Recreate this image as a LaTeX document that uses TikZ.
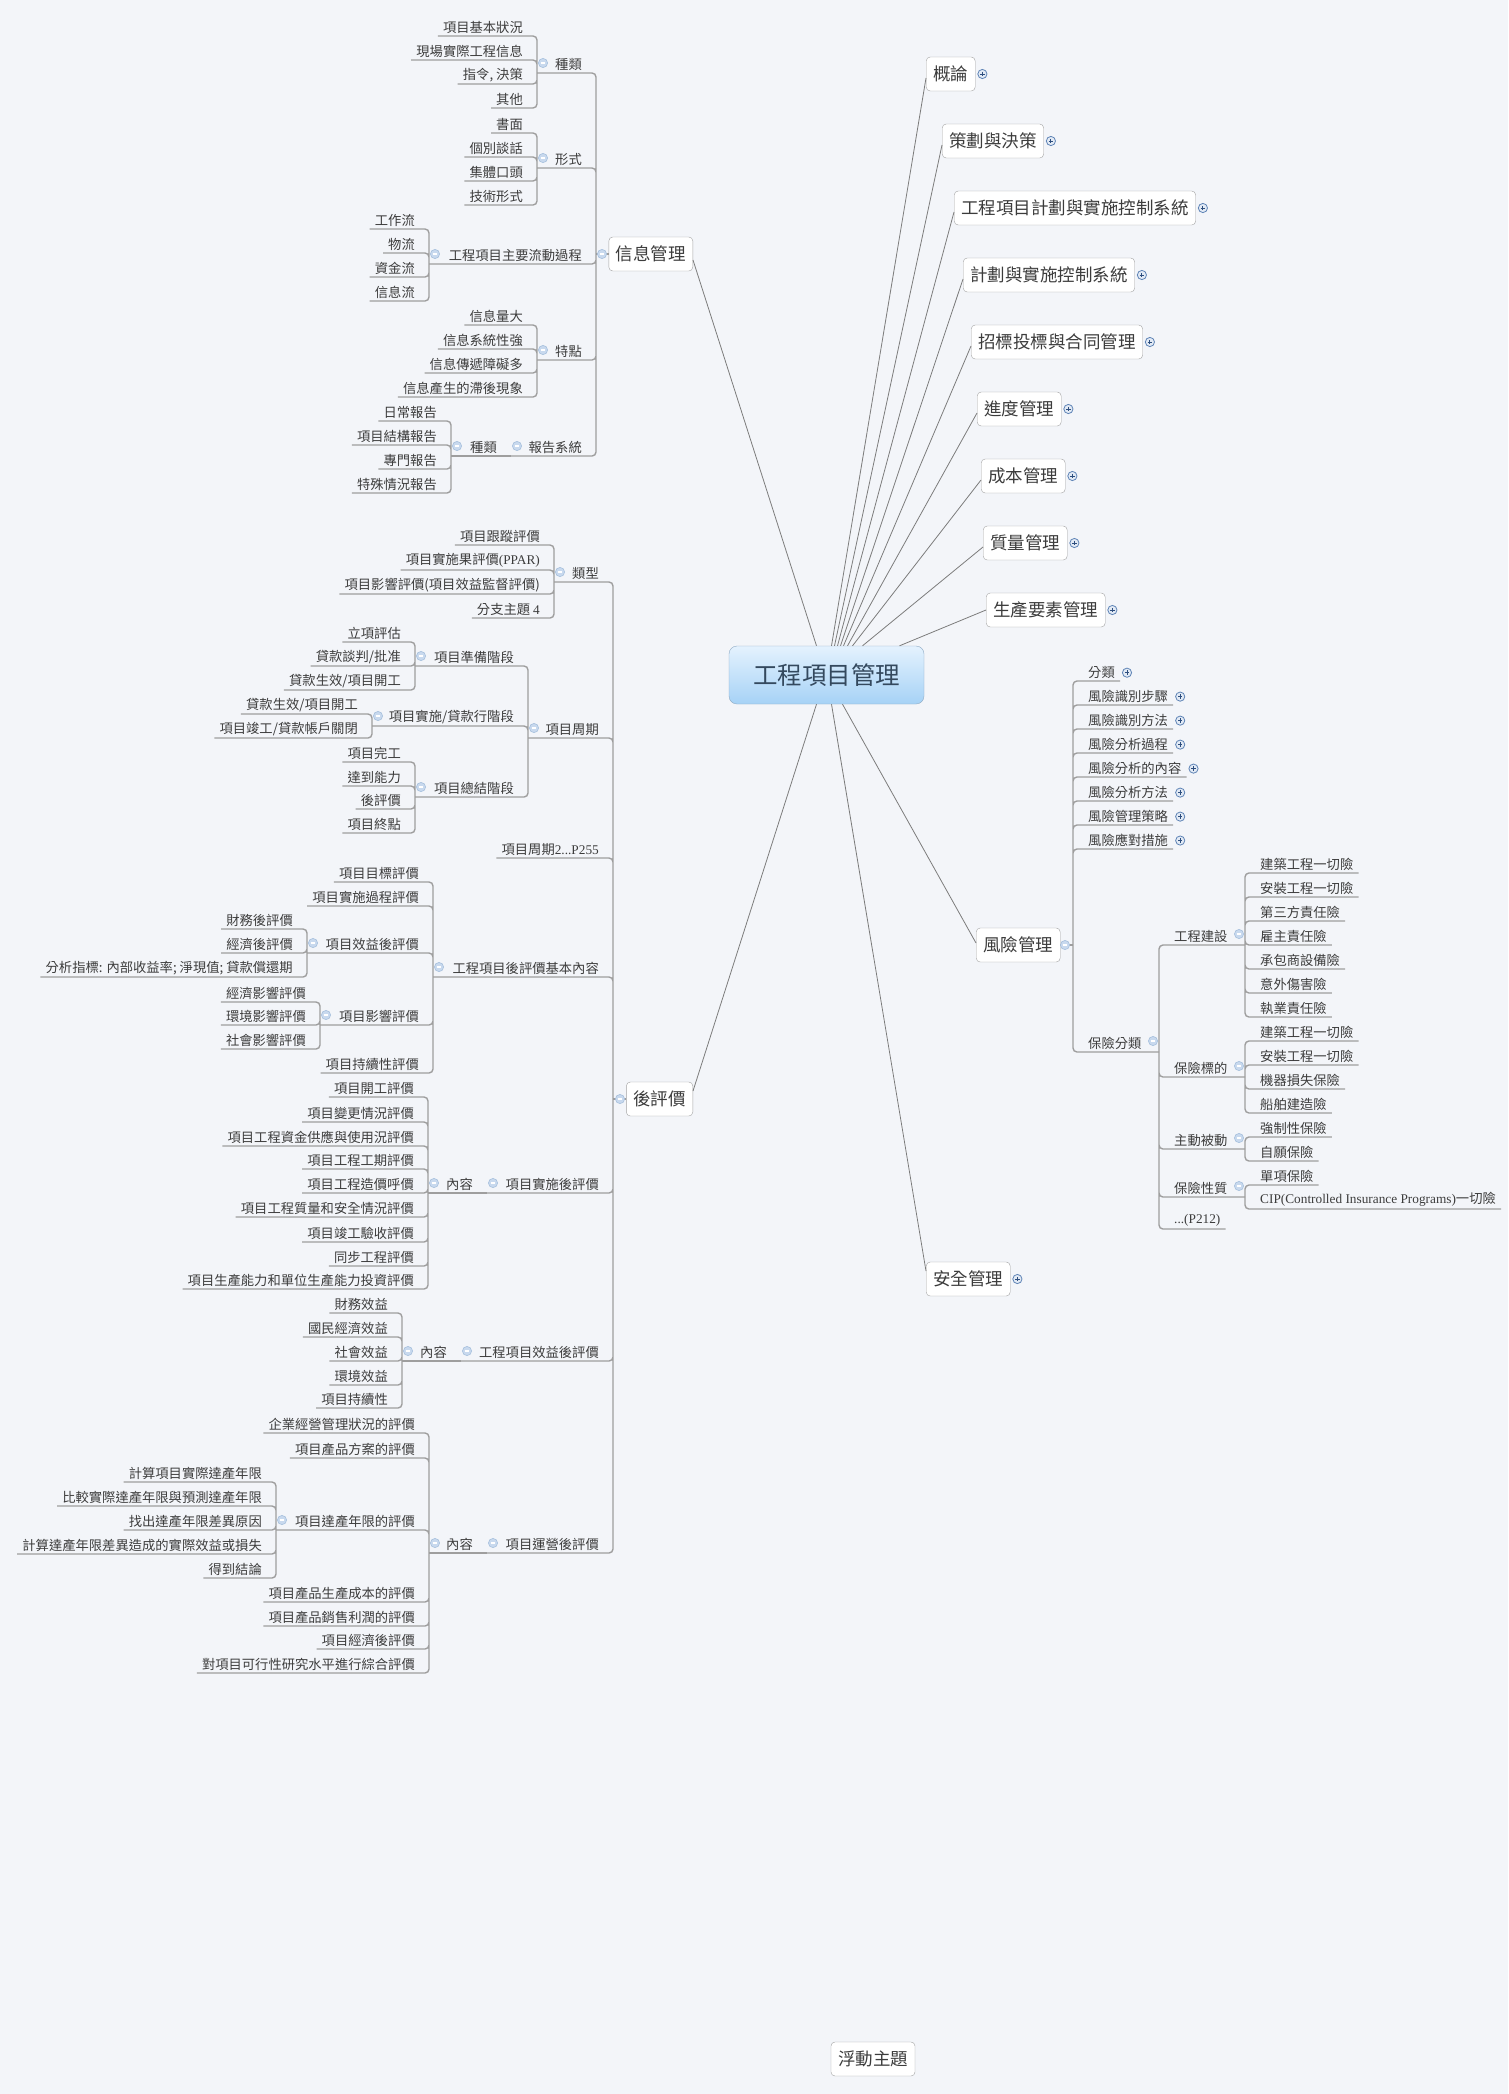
\documentclass[tikz,border=0pt]{standalone}
\usepackage{fontspec}
\setmainfont{Noto Sans CJK TC}
\newfontfamily\latinfont{Liberation Serif}

\definecolor{paper}{HTML}{F3F5F9}
\definecolor{ink}{HTML}{3C3C3C}
\definecolor{rootink}{HTML}{34495E}
\definecolor{wire}{HTML}{9E9E9E}
\definecolor{spokec}{HTML}{7C7C7C}
\definecolor{boxline}{HTML}{A3A3A3}
\definecolor{roottop}{HTML}{E4F2FE}
\definecolor{rootbot}{HTML}{A6D2F6}
\definecolor{rootline}{HTML}{8DA9C3}
\definecolor{foldfill}{HTML}{C8D9EE}
\definecolor{foldline}{HTML}{A7C0DD}
\definecolor{morefill}{HTML}{E2EAF5}
\definecolor{moreline}{HTML}{5F84B6}
\definecolor{moredot}{HTML}{2D4E7E}

\begin{document}
\begin{tikzpicture}[
  x=1pt, y=-1pt,
  root/.style  = {rectangle, rounded corners=8pt, draw=rootline, top color=roottop, bottom color=rootbot,
                  minimum width=195pt, minimum height=58pt, font=\fontsize{24.5}{28}\selectfont, text=rootink},
  topic/.style = {rectangle, rounded corners=4pt, draw=boxline, fill=white, minimum height=34pt,
                  inner xsep=7pt, font=\fontsize{17.5}{20}\selectfont, text=ink},
  leafl/.style = {anchor=south east, inner xsep=5pt, inner ysep=2pt, font=\fontsize{13.3}{16}\selectfont, text=ink},
  leafr/.style = {leafl, anchor=south west},
  conn/.style  = {draw=wire, line width=1.4pt, rounded corners=4pt},
  spoke/.style = {draw=spokec, line width=0.8pt},
  fold/.pic    = {\draw[fill=foldfill, draw=foldline, line width=0.6pt] (0,0) circle[radius=4.6pt];
                  \draw[white, line width=1.2pt] (-2.4,0) -- (2.4,0);},
  more/.pic    = {\draw[fill=morefill, draw=moreline, line width=0.8pt] (0,0) circle[radius=4.6pt];
                  \draw[moredot, line width=1pt] (-2.2,0) -- (2.2,0) (0,-2.2) -- (0,2.2);}
]
\useasboundingbox (0,0) rectangle (1508,2094);
\fill[paper] (0,0) rectangle (1508,2094);

%% ── Centre and main topics ───────────────────────────────────────────────────
\node[root] (root) at (826.5,675) {工程項目管理};
\node[topic, anchor=east] (xxgl) at (693,254)  {信息管理};
\node[topic, anchor=east] (hpj)  at (693,1099) {後評價};
\node[topic, anchor=west] (gl)   at (926,74)   {概論};
\node[topic, anchor=west] (chjc) at (942,141)  {策劃與決策};
\node[topic, anchor=west] (gcjh) at (954,208)  {工程項目計劃與實施控制系統};
\node[topic, anchor=west] (jhkz) at (963,275)  {計劃與實施控制系統};
\node[topic, anchor=west] (zbtb) at (971,342)  {招標投標與合同管理};
\node[topic, anchor=west] (jdgl) at (977,409)  {進度管理};
\node[topic, anchor=west] (cbgl) at (981,476)  {成本管理};
\node[topic, anchor=west] (zlgl) at (983,543)  {質量管理};
\node[topic, anchor=west] (scys) at (986,610)  {生產要素管理};
\node[topic, anchor=west] (fxgl) at (976,945)  {風險管理};
\node[topic, anchor=west] (aqgl) at (926,1279) {安全管理};
\node[topic] (fdzt) at (873,2059) {浮動主題};

\coordinate (xxgl-j) at (596,254);
\coordinate (hpj-j)  at (613,1099);
\coordinate (fxgl-j) at (1073,945);

%% ── 信息管理 ─────────────────────────────────────────────────────────────────
\node[leafl] (zl1)  at (587,73)  {種類};      \coordinate (zl1-j) at (537,73);
\node[leafl] (zl1a) at (528,36)  {項目基本狀況};
\node[leafl] (zl1b) at (528,60)  {現場實際工程信息};
\node[leafl] (zl1c) at (528,84)  {指令, 決策};
\node[leafl] (zl1d) at (528,108) {其他};
\node[leafl] (xs)   at (587,168) {形式};      \coordinate (xs-j) at (537,168);
\node[leafl] (xsa)  at (528,133) {書面};
\node[leafl] (xsb)  at (528,157) {個別談話};
\node[leafl] (xsc)  at (528,181) {集體口頭};
\node[leafl] (xsd)  at (528,205) {技術形式};
\node[leafl] (ldgc) at (587,264) {工程項目主要流動過程}; \coordinate (ldgc-j) at (429,264);
\node[leafl] (ldga) at (420,229) {工作流};
\node[leafl] (ldgb) at (420,253) {物流};
\node[leafl] (ldgcc) at (420,277) {資金流};
\node[leafl] (ldgd) at (420,301) {信息流};
\node[leafl] (td)   at (587,360) {特點};      \coordinate (td-j) at (537,360);
\node[leafl] (tda)  at (528,325) {信息量大};
\node[leafl] (tdb)  at (528,349) {信息系統性強};
\node[leafl] (tdc)  at (528,373) {信息傳遞障礙多};
\node[leafl] (tdd)  at (528,397) {信息產生的滯後現象};
\node[leafl] (bgxt) at (587,456) {報告系統};  \coordinate (bgxt-j) at (511,456);
\node[leafl] (bgzl) at (502,456) {種類};      \coordinate (bgzl-j) at (451,456);
\node[leafl] (bga)  at (442,421) {日常報告};
\node[leafl] (bgb)  at (442,445) {項目結構報告};
\node[leafl] (bgc)  at (442,469) {專門報告};
\node[leafl] (bgd)  at (442,493) {特殊情況報告};

%% ── 後評價 ───────────────────────────────────────────────────────────────────
\node[leafl] (lx)   at (604,582) {類型};      \coordinate (lx-j) at (554,582);
\node[leafl] (lxa)  at (545,545) {項目跟蹤評價};
\node[leafl] (lxb)  at (545,570) {項目實施果評價{\latinfont(PPAR)}};
\node[leafl] (lxc)  at (545,594) {項目影響評價(項目效益監督評價)};
\node[leafl] (lxd)  at (545,618) {分支主題 {\latinfont 4}};
\node[leafl] (xmzq) at (604,738) {項目周期};  \coordinate (xmzq-j) at (528,738);
\node[leafl] (zbjd) at (519,666) {項目準備階段}; \coordinate (zbjd-j) at (415,666);
\node[leafl] (zba)  at (406,642) {立項評估};
\node[leafl] (zbb)  at (406,666) {貸款談判/批准};
\node[leafl] (zbc)  at (406,690) {貸款生效/項目開工};
\node[leafl] (ssjd) at (519,726) {項目實施/貸款行階段}; \coordinate (ssjd-j) at (372,726);
\node[leafl] (ssa)  at (363,714) {貸款生效/項目開工};
\node[leafl] (ssb)  at (363,738) {項目竣工/貸款帳戶關閉};
\node[leafl] (zjjd) at (519,797) {項目總結階段}; \coordinate (zjjd-j) at (415,797);
\node[leafl] (zja)  at (406,762) {項目完工};
\node[leafl] (zjb)  at (406,786) {達到能力};
\node[leafl] (zjc)  at (406,809) {後評價};
\node[leafl] (zjd)  at (406,833) {項目終點};
\node[leafl] (zq2)  at (604,858) {項目周期{\latinfont 2...P255}};
\node[leafl] (jbnr) at (604,977) {工程項目後評價基本內容}; \coordinate (jbnr-j) at (433,977);
\node[leafl] (mbpj) at (424,882) {項目目標評價};
\node[leafl] (gcpj) at (424,906) {項目實施過程評價};
\node[leafl] (xypj) at (424,953) {項目效益後評價}; \coordinate (xypj-j) at (307,953);
\node[leafl] (xya)  at (298,929) {財務後評價};
\node[leafl] (xyb)  at (298,953) {經濟後評價};
\node[leafl] (xyc)  at (298,977) {分析指標: 內部收益率; 淨現值; 貸款償還期};
\node[leafl] (yxpj) at (424,1025) {項目影響評價}; \coordinate (yxpj-j) at (320,1025);
\node[leafl] (yxa)  at (311,1002) {經濟影響評價};
\node[leafl] (yxb)  at (311,1025) {環境影響評價};
\node[leafl] (yxc)  at (311,1049) {社會影響評價};
\node[leafl] (cxpj) at (424,1073) {項目持續性評價};
\node[leafl] (sshp) at (604,1193) {項目實施後評價}; \coordinate (sshp-j) at (487,1193);
\node[leafl] (nra)  at (478,1193) {內容};     \coordinate (nra-j) at (428,1193);
\node[leafl] (nra1) at (419,1097) {項目開工評價};
\node[leafl] (nra2) at (419,1122) {項目變更情況評價};
\node[leafl] (nra3) at (419,1146) {項目工程資金供應與使用況評價};
\node[leafl] (nra4) at (419,1169) {項目工程工期評價};
\node[leafl] (nra5) at (419,1193) {項目工程造價呼價};
\node[leafl] (nra6) at (419,1217) {項目工程質量和安全情況評價};
\node[leafl] (nra7) at (419,1242) {項目竣工驗收評價};
\node[leafl] (nra8) at (419,1266) {同步工程評價};
\node[leafl] (nra9) at (419,1289) {項目生產能力和單位生產能力投資評價};
\node[leafl] (xyhp) at (604,1361) {工程項目效益後評價}; \coordinate (xyhp-j) at (461,1361);
\node[leafl] (nrb)  at (452,1361) {內容};     \coordinate (nrb-j) at (402,1361);
\node[leafl] (nrb1) at (393,1313) {財務效益};
\node[leafl] (nrb2) at (393,1337) {國民經濟效益};
\node[leafl] (nrb3) at (393,1361) {社會效益};
\node[leafl] (nrb4) at (393,1385) {環境效益};
\node[leafl] (nrb5) at (393,1408) {項目持續性};
\node[leafl] (yyhp) at (604,1553) {項目運營後評價}; \coordinate (yyhp-j) at (487,1553);
\node[leafl] (nrc)  at (478,1553) {內容};     \coordinate (nrc-j) at (429,1553);
\node[leafl] (nrc1) at (420,1433) {企業經營管理狀況的評價};
\node[leafl] (nrc2) at (420,1458) {項目產品方案的評價};
\node[leafl] (dcnx) at (420,1530) {項目達產年限的評價}; \coordinate (dcnx-j) at (276,1530);
\node[leafl] (dca)  at (267,1482) {計算項目實際達產年限};
\node[leafl] (dcb)  at (267,1506) {比較實際達產年限與預測達產年限};
\node[leafl] (dcc)  at (267,1530) {找出達產年限差異原因};
\node[leafl] (dcd)  at (267,1554) {計算達產年限差異造成的實際效益或損失};
\node[leafl] (dce)  at (267,1578) {得到結論};
\node[leafl] (nrc3) at (420,1602) {項目產品生產成本的評價};
\node[leafl] (nrc4) at (420,1626) {項目產品銷售利潤的評價};
\node[leafl] (nrc5) at (420,1649) {項目經濟後評價};
\node[leafl] (nrc6) at (420,1673) {對項目可行性研究水平進行綜合評價};

%% ── 風險管理 ─────────────────────────────────────────────────────────────────
\node[leafr] (fl)   at (1083,681) {分類};
\node[leafr] (sbbz) at (1083,705) {風險識別步驟};
\node[leafr] (sbff) at (1083,729) {風險識別方法};
\node[leafr] (fxgc) at (1083,753) {風險分析過程};
\node[leafr] (fxnr) at (1083,777) {風險分析的內容};
\node[leafr] (fxff) at (1083,801) {風險分析方法};
\node[leafr] (glcl) at (1083,825) {風險管理策略};
\node[leafr] (ydcs) at (1083,849) {風險應對措施};
\node[leafr] (bxfl) at (1083,1052) {保險分類};  \coordinate (bxfl-j) at (1159,1052);
\node[leafr] (gcjs) at (1169,945)  {工程建設};  \coordinate (gcjs-j) at (1245,945);
\node[leafr] (gca)  at (1255,873)  {建築工程一切險};
\node[leafr] (gcb)  at (1255,897)  {安裝工程一切險};
\node[leafr] (gcc)  at (1255,921)  {第三方責任險};
\node[leafr] (gcd)  at (1255,945)  {雇主責任險};
\node[leafr] (gce)  at (1255,969)  {承包商設備險};
\node[leafr] (gcf)  at (1255,993)  {意外傷害險};
\node[leafr] (gcg)  at (1255,1017) {執業責任險};
\node[leafr] (bxbd) at (1169,1077) {保險標的};  \coordinate (bxbd-j) at (1245,1077);
\node[leafr] (bda)  at (1255,1041) {建築工程一切險};
\node[leafr] (bdb)  at (1255,1065) {安裝工程一切險};
\node[leafr] (bdc)  at (1255,1089) {機器損失保險};
\node[leafr] (bdd)  at (1255,1113) {船舶建造險};
\node[leafr] (zdbd) at (1169,1149) {主動被動};  \coordinate (zdbd-j) at (1245,1149);
\node[leafr] (zda)  at (1255,1137) {強制性保險};
\node[leafr] (zdb)  at (1255,1161) {自願保險};
\node[leafr] (bxxz) at (1169,1197) {保險性質};  \coordinate (bxxz-j) at (1245,1197);
\node[leafr] (xza)  at (1255,1185) {單項保險};
\node[leafr] (xzb)  at (1255,1209) {{\latinfont CIP(Controlled Insurance Programs)}一切險};
\node[leafr] (p212) at (1169,1229) {{\latinfont ...(P212)}};

%% ── Spokes from the centre ───────────────────────────────────────────────────
\draw[spoke] ([xshift=-10pt]root.north) -- ([yshift=-6pt]xxgl.east);
\draw[spoke] ([xshift=5pt]root.north)   -- ([yshift=-4pt]gl.west);
\draw[spoke] ([xshift=8pt]root.north)   -- ([yshift=-4pt]chjc.west);
\draw[spoke] ([xshift=11pt]root.north)  -- ([yshift=-4pt]gcjh.west);
\draw[spoke] ([xshift=14pt]root.north)  -- ([yshift=-4pt]jhkz.west);
\draw[spoke] ([xshift=17pt]root.north)  -- ([yshift=-4pt]zbtb.west);
\draw[spoke] ([xshift=21pt]root.north)  -- ([yshift=-4pt]jdgl.west);
\draw[spoke] ([xshift=26pt]root.north)  -- ([yshift=-4pt]cbgl.west);
\draw[spoke] ([xshift=36pt]root.north)  -- ([yshift=-4pt]zlgl.west);
\draw[spoke] ([xshift=73pt]root.north)  -- (scys.west);
\draw[spoke] ([xshift=-10pt]root.south) -- ([yshift=8pt]hpj.east);
\draw[spoke] ([xshift=5pt]root.south)   -- ([yshift=8pt]aqgl.west);
\draw[spoke] ([xshift=16pt]root.south)  -- ([yshift=2pt]fxgl.west);

%% ── Branch lines: 信息管理 ───────────────────────────────────────────────────
\draw[conn] (xxgl.west) -- (xxgl-j);
\draw[conn] (xxgl-j) |- (zl1-j)  (xxgl-j) |- (xs-j)  (xxgl-j) |- (ldgc-j)
            (xxgl-j) |- (td-j)   (xxgl-j) |- (bgxt-j);
\draw[conn] (zl1-j) |- (zl1a.south west) (zl1-j) |- (zl1b.south west)
            (zl1-j) |- (zl1c.south west) (zl1-j) |- (zl1d.south west);
\draw[conn] (xs-j) |- (xsa.south west) (xs-j) |- (xsb.south west)
            (xs-j) |- (xsc.south west) (xs-j) |- (xsd.south west);
\draw[conn] (ldgc-j) |- (ldga.south west) (ldgc-j) |- (ldgb.south west)
            (ldgc-j) |- (ldgcc.south west) (ldgc-j) |- (ldgd.south west);
\draw[conn] (td-j) |- (tda.south west) (td-j) |- (tdb.south west)
            (td-j) |- (tdc.south west) (td-j) |- (tdd.south west);
\draw[conn] (bgxt-j) -- (bgzl-j);
\draw[conn] (bgzl-j) |- (bga.south west) (bgzl-j) |- (bgb.south west)
            (bgzl-j) |- (bgc.south west) (bgzl-j) |- (bgd.south west);

%% ── Branch lines: 後評價 ─────────────────────────────────────────────────────
\draw[conn] (hpj.west) -- (hpj-j);
\draw[conn] (hpj-j) |- (lx-j)   (hpj-j) |- (xmzq-j) (hpj-j) |- (zq2.south west)
            (hpj-j) |- (jbnr-j) (hpj-j) |- (sshp-j) (hpj-j) |- (xyhp-j)
            (hpj-j) |- (yyhp-j);
\draw[conn] (lx-j) |- (lxa.south west) (lx-j) |- (lxb.south west)
            (lx-j) |- (lxc.south west) (lx-j) |- (lxd.south west);
\draw[conn] (xmzq-j) |- (zbjd-j) (xmzq-j) |- (ssjd-j) (xmzq-j) |- (zjjd-j);
\draw[conn] (zbjd-j) |- (zba.south west) (zbjd-j) |- (zbb.south west) (zbjd-j) |- (zbc.south west);
\draw[conn] (ssjd-j) |- (ssa.south west) (ssjd-j) |- (ssb.south west);
\draw[conn] (zjjd-j) |- (zja.south west) (zjjd-j) |- (zjb.south west)
            (zjjd-j) |- (zjc.south west) (zjjd-j) |- (zjd.south west);
\draw[conn] (jbnr-j) |- (mbpj.south west) (jbnr-j) |- (gcpj.south west)
            (jbnr-j) |- (xypj-j) (jbnr-j) |- (yxpj-j) (jbnr-j) |- (cxpj.south west);
\draw[conn] (xypj-j) |- (xya.south west) (xypj-j) |- (xyb.south west) (xypj-j) |- (xyc.south west);
\draw[conn] (yxpj-j) |- (yxa.south west) (yxpj-j) |- (yxb.south west) (yxpj-j) |- (yxc.south west);
\draw[conn] (sshp-j) -- (nra-j);
\draw[conn] (nra-j) |- (nra1.south west) (nra-j) |- (nra2.south west) (nra-j) |- (nra3.south west)
            (nra-j) |- (nra4.south west) (nra-j) |- (nra5.south west) (nra-j) |- (nra6.south west)
            (nra-j) |- (nra7.south west) (nra-j) |- (nra8.south west) (nra-j) |- (nra9.south west);
\draw[conn] (xyhp-j) -- (nrb-j);
\draw[conn] (nrb-j) |- (nrb1.south west) (nrb-j) |- (nrb2.south west) (nrb-j) |- (nrb3.south west)
            (nrb-j) |- (nrb4.south west) (nrb-j) |- (nrb5.south west);
\draw[conn] (yyhp-j) -- (nrc-j);
\draw[conn] (nrc-j) |- (nrc1.south west) (nrc-j) |- (nrc2.south west) (nrc-j) |- (dcnx-j)
            (nrc-j) |- (nrc3.south west) (nrc-j) |- (nrc4.south west) (nrc-j) |- (nrc5.south west)
            (nrc-j) |- (nrc6.south west);
\draw[conn] (dcnx-j) |- (dca.south west) (dcnx-j) |- (dcb.south west) (dcnx-j) |- (dcc.south west)
            (dcnx-j) |- (dcd.south west) (dcnx-j) |- (dce.south west);

%% ── Branch lines: 風險管理 ───────────────────────────────────────────────────
\draw[conn] (fxgl.east) -- (fxgl-j);
\draw[conn] (fxgl-j) |- (fl.south east)   (fxgl-j) |- (sbbz.south east) (fxgl-j) |- (sbff.south east)
            (fxgl-j) |- (fxgc.south east) (fxgl-j) |- (fxnr.south east) (fxgl-j) |- (fxff.south east)
            (fxgl-j) |- (glcl.south east) (fxgl-j) |- (ydcs.south east) (fxgl-j) |- (bxfl-j);
\draw[conn] (bxfl-j) |- (gcjs-j) (bxfl-j) |- (bxbd-j) (bxfl-j) |- (zdbd-j)
            (bxfl-j) |- (bxxz-j) (bxfl-j) |- (p212.south east);
\draw[conn] (gcjs-j) |- (gca.south east) (gcjs-j) |- (gcb.south east) (gcjs-j) |- (gcc.south east)
            (gcjs-j) |- (gcd.south east) (gcjs-j) |- (gce.south east) (gcjs-j) |- (gcf.south east)
            (gcjs-j) |- (gcg.south east);
\draw[conn] (bxbd-j) |- (bda.south east) (bxbd-j) |- (bdb.south east)
            (bxbd-j) |- (bdc.south east) (bxbd-j) |- (bdd.south east);
\draw[conn] (zdbd-j) |- (zda.south east) (zdbd-j) |- (zdb.south east);
\draw[conn] (bxxz-j) |- (xza.south east) (bxxz-j) |- (xzb.south east);

%% ── Fold marks ───────────────────────────────────────────────────────────────
\pic at (602,254)  {fold};
\pic at (543,63)   {fold};
\pic at (543,158)  {fold};
\pic at (435,254)  {fold};
\pic at (543,350)  {fold};
\pic at (517,446)  {fold};
\pic at (457,446)  {fold};
\pic at (620,1099) {fold};
\pic at (560,572)  {fold};
\pic at (534,728)  {fold};
\pic at (421,656)  {fold};
\pic at (378,716)  {fold};
\pic at (421,787)  {fold};
\pic at (439,967)  {fold};
\pic at (313,943)  {fold};
\pic at (326,1015) {fold};
\pic at (493,1183) {fold};
\pic at (434,1183) {fold};
\pic at (467,1351) {fold};
\pic at (408,1351) {fold};
\pic at (493,1543) {fold};
\pic at (435,1543) {fold};
\pic at (282,1520) {fold};
\pic at (1065,945)  {fold};
\pic at (1153,1041) {fold};
\pic at (1239,934)  {fold};
\pic at (1239,1066) {fold};
\pic at (1239,1138) {fold};
\pic at (1239,1186) {fold};

%% ── Collapsed marks ──────────────────────────────────────────────────────────
\pic at ([xshift=7pt]gl.east)   {more};
\pic at ([xshift=7pt]chjc.east) {more};
\pic at ([xshift=7pt]gcjh.east) {more};
\pic at ([xshift=7pt]jhkz.east) {more};
\pic at ([xshift=7pt]zbtb.east) {more};
\pic at ([xshift=7pt]jdgl.east) {more};
\pic at ([xshift=7pt]cbgl.east) {more};
\pic at ([xshift=7pt]zlgl.east) {more};
\pic at ([xshift=7pt]scys.east) {more};
\pic at ([xshift=7pt]aqgl.east) {more};
\pic at ([xshift=7pt]fl.east)   {more};
\pic at ([xshift=7pt]sbbz.east) {more};
\pic at ([xshift=7pt]sbff.east) {more};
\pic at ([xshift=7pt]fxgc.east) {more};
\pic at ([xshift=7pt]fxnr.east) {more};
\pic at ([xshift=7pt]fxff.east) {more};
\pic at ([xshift=7pt]glcl.east) {more};
\pic at ([xshift=7pt]ydcs.east) {more};

\end{tikzpicture}
\end{document}
